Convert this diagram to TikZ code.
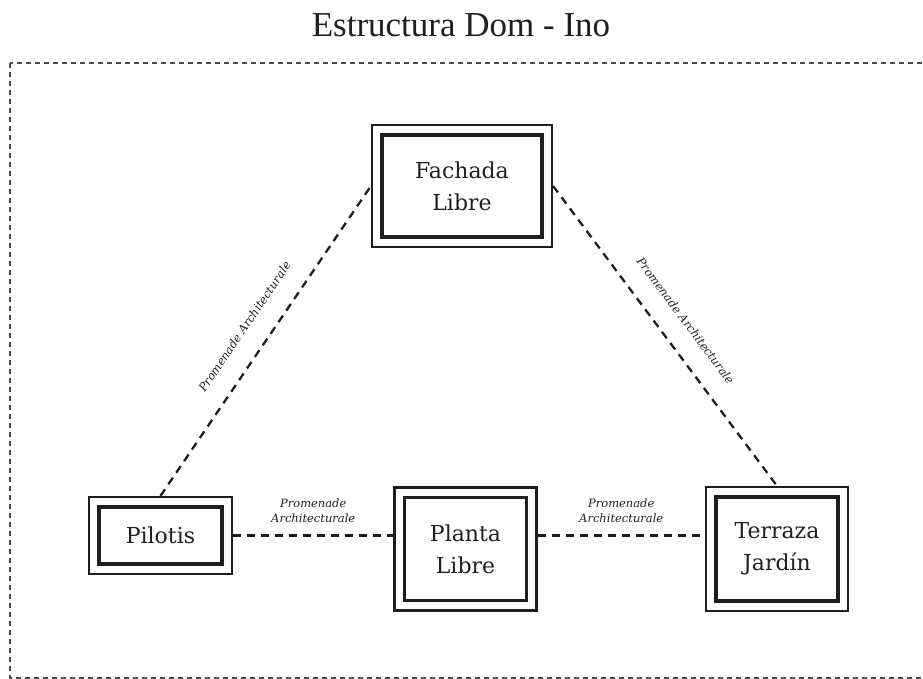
\documentclass[tikz,border=0pt]{standalone}
\usepackage{fontspec}
\setmainfont{DejaVu Serif}
\newfontfamily\titlefont{Liberation Serif}
\definecolor{ink}{HTML}{1E1E1E}
\definecolor{txt}{HTML}{231F20}
\definecolor{framegray}{HTML}{4A4A4A}
\begin{document}
\begin{tikzpicture}[x=1pt,y=-1pt,
  box/.style={draw=ink, line width=2.2pt, fill=white, inner sep=0pt, align=center, text=txt,
    font=\fontsize{22}{32}\selectfont,
    path picture={\draw[ink, line width=3.3pt]
      ([shift={(10pt,-10pt)}]path picture bounding box.north west) rectangle
      ([shift={(-10pt,10pt)}]path picture bounding box.south east);}},
  link/.style={draw=ink, line width=2.3pt, dash pattern=on 8pt off 6pt},
  lab/.style={font=\fontsize{11.5}{15}\selectfont\itshape, text=txt, align=center, inner sep=0pt},
  framebox/.style={draw=framegray, line width=1.2pt, dash pattern=on 5pt off 4pt}
]
\useasboundingbox (0,0) rectangle (923,679);
\clip (0,0) rectangle (923,679);
\draw[framebox] (10,63) rectangle (940,678);
\node[font=\titlefont\fontsize{35}{40}\selectfont, text=txt, anchor=base] (title) at (461,37) {Estructura Dom - Ino};

\node[box, minimum width=180pt, minimum height=122pt] (fac) at (462,186) {Fachada\\Libre};
\node[box, minimum width=143pt, minimum height=77pt] (pil) at (160.5,535.5) {Pilotis};
\node[box, minimum width=142pt, minimum height=123pt] (pla) at (465.5,549) {Planta\\Libre};
\node[box, minimum width=142pt, minimum height=124pt] (ter) at (777,549) {Terraza\\Jardín};

\draw[link] (pil.north) -- node[lab, sloped, above=20pt] {Promenade Architecturale} (fac.west);
\draw[link] (fac.east) -- node[lab, sloped, above=20pt] {Promenade Architecturale} (ter.north);
\draw[link] (pil.east) -- node[lab, above=12pt] {Promenade\\Architecturale} (pil.east -| pla.west);
\draw[link] (pla.east |- pil.east) -- node[lab, above=12pt] {Promenade\\Architecturale} (ter.west |- pil.east);
\end{tikzpicture}
\end{document}
